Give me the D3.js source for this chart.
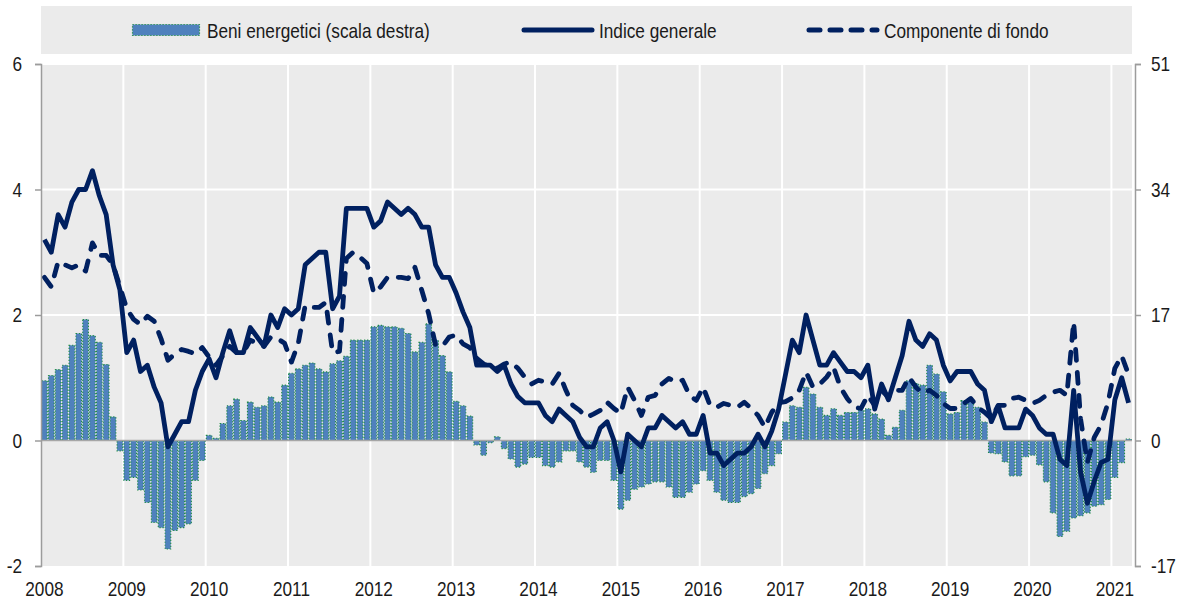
<!DOCTYPE html>
<html>
<head>
<meta charset="utf-8">
<script src="https://cdn.jsdelivr.net/npm/d3@7"></script>
<style>
  body { margin: 0; background: #fff; }
  svg text { font-family: "Liberation Sans", Arial, sans-serif; font-size: 21px; fill: #1a1a1a; }
</style>
</head>
<body>
<div id="chart"></div>
<script>
// monthly data, Jan 2008 - Mar 2021
const years = d3.range(2008, 2022);

// energy goods, % (right scale)
const energy = [
  8.1, 8.8, 9.6, 10.2, 12.9, 14.5, 16.4, 14.2, 13.3, 10.3, 3.2, -1.4,
  -5.4, -5.0, -6.7, -8.4, -11.1, -11.8, -14.7, -12.2, -11.8, -11.3, -5.4, -2.7,
  0.7, 0.3, 2.3, 4.7, 5.6, 2.7, 5.2, 4.5, 4.7, 5.9, 5.2, 7.5,
  9.1, 9.7, 10.2, 10.5, 9.7, 9.3, 10.4, 10.8, 11.4, 13.6, 13.6, 13.6,
  15.4, 15.6, 15.4, 15.4, 15.2, 14.5, 12.0, 13.3, 15.8, 13.6, 11.5, 9.3,
  5.3, 4.7, 3.3, -0.6, -2.0, -0.3, 0.5, -1.1, -2.5, -3.6, -3.2, -2.3,
  -2.3, -3.4, -3.6, -2.9, -1.4, -1.4, -2.9, -3.6, -4.3, -2.7, -2.7, -5.4,
  -9.3, -8.1, -6.6, -6.3, -5.9, -5.6, -5.6, -6.3, -7.7, -7.7, -7.0, -5.9,
  -4.1, -5.4, -7.0, -8.1, -8.4, -8.4, -7.6, -7.2, -6.5, -4.5, -3.4, -1.8,
  2.5, 4.7, 4.5, 7.2, 6.3, 4.5, 3.4, 4.3, 3.4, 3.8, 3.8, 4.1,
  4.3, 3.6, 2.9, 0.7, 1.8, 4.1, 8.1, 7.7, 7.5, 10.2, 9.0, 6.6,
  3.6, 3.8, 5.4, 5.4, 4.5, 2.5, -1.7, -1.8, -2.9, -4.8, -4.8, -2.2,
  -2.0, -3.3, -5.6, -9.8, -13.0, -12.3, -10.5, -10.2, -9.8, -8.9, -8.7, -8.0,
  -5.0, -3.0, 0.2
];

// headline index, %
const headline = [
  3.2, 3.0, 3.6, 3.4, 3.8, 4.0, 4.0, 4.3, 3.9, 3.6, 2.8, 2.4,
  1.4, 1.6, 1.1, 1.2, 0.85, 0.6, -0.1, 0.1, 0.3, 0.3, 0.8, 1.1,
  1.3, 1.0, 1.4, 1.75, 1.4, 1.4, 1.8, 1.65, 1.5, 2.0, 1.8, 2.1,
  2.0, 2.1, 2.8, 2.9, 3.0, 3.0, 2.1, 2.3, 3.7, 3.7, 3.7, 3.7,
  3.4, 3.5, 3.8, 3.7, 3.6, 3.7, 3.6, 3.4, 3.4, 2.8, 2.6, 2.6,
  2.35, 2.05, 1.8, 1.2, 1.2, 1.2, 1.1, 1.2, 0.9, 0.7, 0.6, 0.6,
  0.6, 0.4, 0.3, 0.5, 0.4, 0.3, 0.05, -0.1, -0.1, 0.2, 0.3, 0.0,
  -0.5, 0.1, 0.0, -0.1, 0.2, 0.2, 0.4, 0.3, 0.2, 0.3, 0.1, 0.1,
  0.4, -0.2, -0.2, -0.4, -0.3, -0.2, -0.2, -0.1, 0.1, -0.1, 0.15, 0.5,
  1.05, 1.6, 1.4, 2.0, 1.6, 1.2, 1.2, 1.4, 1.25, 1.1, 1.1, 1.0,
  1.2, 0.5, 0.9, 0.65, 1.0, 1.35, 1.9, 1.6, 1.5, 1.7, 1.6, 1.2,
  0.95, 1.1, 1.1, 1.1, 0.9, 0.8, 0.3, 0.55, 0.2, 0.2, 0.2, 0.5,
  0.4, 0.2, 0.1, 0.1, -0.3, -0.4, 0.8, -0.5, -1.0, -0.65, -0.35, -0.3,
  0.65, 1.0, 0.6
];

// core component, %
const core = [
  2.6, 2.45, 2.85, 2.8, 2.75, 2.8, 2.7, 3.15, 2.95, 2.95, 2.8, 2.45,
  2.1, 1.93, 1.85, 1.98, 1.9, 1.62, 1.28, 1.38, 1.45, 1.42, 1.38, 1.48,
  1.33, 1.2, 1.35, 1.5, 1.4, 1.4, 1.6, 1.55, 1.5, 1.65, 1.62, 1.55,
  1.25, 1.55, 2.15, 2.12, 2.12, 2.2, 1.4, 1.42, 2.9, 3.0, 2.92, 2.82,
  2.35, 2.45, 2.6, 2.6, 2.6, 2.58, 2.76, 2.39, 2.02, 1.52, 1.5, 1.65,
  1.68, 1.54, 1.48, 1.31, 1.22, 1.18, 1.15, 1.22, 1.25, 1.15, 1.01, 0.9,
  0.96, 0.93, 0.9, 1.07, 0.8, 0.56, 0.48, 0.37, 0.42, 0.48, 0.61, 0.51,
  0.43, 0.85, 0.64, 0.4, 0.69, 0.72, 0.9, 0.99, 0.93, 0.96, 0.72, 0.64,
  0.85, 0.56, 0.53, 0.59, 0.56, 0.53, 0.61, 0.51, 0.4, 0.21, 0.45, 0.6,
  0.62, 0.68, 0.8, 1.09, 0.85, 0.9, 1.01, 1.17, 0.85, 0.67, 0.53, 0.51,
  0.72, 0.56, 0.8, 0.69, 0.8, 0.8, 1.01, 0.85, 0.75, 0.8, 0.72, 0.59,
  0.51, 0.51, 0.59, 0.67, 0.53, 0.45, 0.35, 0.56, 0.56, 0.67, 0.69, 0.64,
  0.59, 0.64, 0.72, 0.77, 0.8, 0.72, 1.89, 0.35, -0.35, 0.05, 0.25, 0.6,
  1.15, 1.35, 1.05
];

const leftTicks = [-2, 0, 2, 4, 6];
const rightTicks = [-17, 0, 17, 34, 51];
const legendLabels = ["Beni energetici (scala destra)", "Indice generale", "Componente di fondo"];

const navy = "#002060", barFill = "#4F81BD", barEdge = "#1E8C45";
const narrow = 0.82; // squeeze Liberation Sans to look like a narrow face

const margin = { top: 64, right: 53, bottom: 42, left: 41 },
    width = 1186 - margin.left - margin.right,
    height = 608 - margin.top - margin.bottom;

const svg = d3.select("#chart").append("svg")
    .attr("width", 1186)
    .attr("height", 608);

// legend box
svg.append("rect")
    .attr("x", 41).attr("y", 6)
    .attr("width", 1091).attr("height", 48)
    .attr("fill", "#EBEBEB");

const g = svg.append("g")
    .attr("transform", "translate(" + margin.left + "," + margin.top + ")");

const months = d3.range(energy.length);
const x = d3.scaleBand().domain(months).range([0, width - 1]).padding(0);
const y = d3.scaleLinear().domain([-2, 6]).range([height, 0]);
const yR = d3.scaleLinear().domain([-17, 51]).range([height, 0]);
const bw = x.bandwidth();

// plot background
g.append("rect")
    .attr("width", width - 1).attr("height", height)
    .attr("fill", "#EBEBEB");

// grid
g.selectAll(".hgrid")
    .data(leftTicks.filter(d => d > 0))
    .enter().append("line")
    .attr("x1", 0).attr("x2", width - 1)
    .attr("y1", d => y(d)).attr("y2", d => y(d))
    .attr("stroke", "#fff").attr("stroke-width", 2);

g.selectAll(".vgrid")
    .data(years.slice(1))
    .enter().append("line")
    .attr("x1", d => x((d - 2008) * 12)).attr("x2", d => x((d - 2008) * 12))
    .attr("y1", 0).attr("y2", height)
    .attr("stroke", "#fff").attr("stroke-width", 2);

// bars
g.selectAll(".bar")
    .data(energy)
    .enter().append("rect")
    .attr("class", "bar")
    .attr("x", (d, i) => x(i) + 0.6)
    .attr("width", bw - 1.2)
    .attr("y", d => yR(Math.max(0, d)))
    .attr("height", d => Math.abs(yR(d) - yR(0)))
    .attr("fill", barFill)
    .attr("stroke", barEdge)
    .attr("stroke-width", 1.1)
    .attr("stroke-dasharray", "1.2,1.8");

// zero line
g.append("line")
    .attr("x1", 0).attr("x2", width - 1)
    .attr("y1", y(0)).attr("y2", y(0))
    .attr("stroke", "#A6A6A6").attr("stroke-width", 1.5);

// lines
const line = d3.line()
    .x((d, i) => x(i) + bw / 2)
    .y(d => y(d));

g.append("path")
    .datum(core)
    .attr("d", line)
    .attr("fill", "none")
    .attr("stroke", navy)
    .attr("stroke-width", 4.8)
    .attr("stroke-linecap", "round")
    .attr("stroke-linejoin", "round")
    .attr("stroke-dasharray", "11,12");

g.append("path")
    .datum(headline)
    .attr("d", line)
    .attr("fill", "none")
    .attr("stroke", navy)
    .attr("stroke-width", 4.8)
    .attr("stroke-linejoin", "round");

// axes
const yAxis = g.append("g")
    .call(d3.axisLeft(y).tickValues(leftTicks).tickSize(6).tickPadding(13).tickFormat(d => String(d)));

const yAxisR = g.append("g")
    .attr("transform", "translate(" + (width + 2) + ",0)")
    .call(d3.axisRight(yR).tickValues(rightTicks).tickSize(6).tickPadding(10).tickFormat(d => String(d)));

const xAxis = g.append("g")
    .attr("transform", "translate(0," + height + ")")
    .call(d3.axisBottom(x)
        .tickValues(years.map(d => (d - 2008) * 12))
        .tickFormat(i => 2008 + i / 12)
        .tickSize(0).tickPadding(15));

[yAxis, yAxisR].forEach(a => {
    a.select(".domain").attr("stroke", "#9C9C9C").attr("stroke-width", 1.5);
    a.selectAll(".tick line").attr("stroke", "#9C9C9C").attr("stroke-width", 1.5);
});
xAxis.select(".domain").remove();

svg.selectAll(".tick text")
    .attr("font-size", 21).attr("fill", "#1a1a1a")
    .style("font-family", "'Liberation Sans', Arial, sans-serif")
    .each(function () {
        const t = d3.select(this);
        const tx = +t.attr("x") || 0;
        t.attr("x", tx / narrow).attr("transform", "scale(" + narrow + ",1)");
    });

// legend
const leg = svg.append("g");
leg.append("rect")
    .attr("x", 132.5).attr("y", 24.5).attr("width", 67).attr("height", 11)
    .attr("fill", barFill).attr("stroke", barEdge)
    .attr("stroke-width", 1.2).attr("stroke-dasharray", "1.2,1.8");
leg.append("line")
    .attr("x1", 524).attr("x2", 592).attr("y1", 30).attr("y2", 30)
    .attr("stroke", navy).attr("stroke-width", 5).attr("stroke-linecap", "round");
leg.append("line")
    .attr("x1", 809).attr("x2", 877).attr("y1", 30).attr("y2", 30)
    .attr("stroke", navy).attr("stroke-width", 5).attr("stroke-linecap", "round")
    .attr("stroke-dasharray", "11,10");

leg.selectAll(".ltext")
    .data(legendLabels)
    .enter().append("text")
    .attr("transform", (d, i) => "translate(" + [207, 599, 884][i] + ",37.5) scale(" + narrow + ",1)")
    .text(d => d);
</script>
</body>
</html>
